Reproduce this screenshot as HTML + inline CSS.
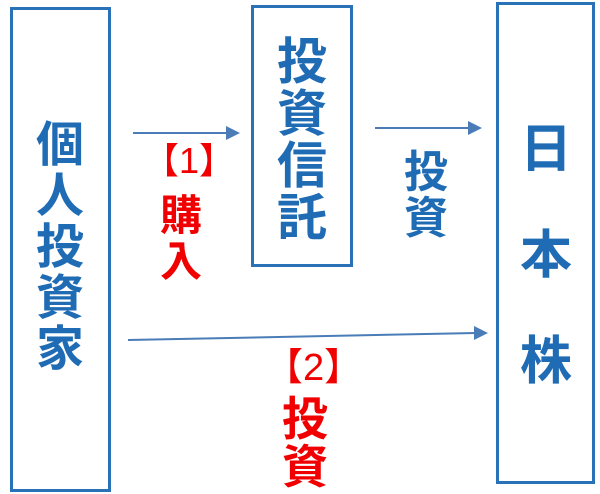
<!DOCTYPE html>
<html><head><meta charset="utf-8"><style>
body{margin:0;width:600px;height:494px;background:#fff;position:relative;overflow:hidden;font-family:"Liberation Sans","Noto Sans CJK JP",sans-serif;font-weight:bold}
.box{position:absolute;border:3px solid #2a72b8;box-sizing:border-box}
.t{position:absolute;text-align:center;line-height:1;color:#1f6cb5}
.r{color:#f00000}
</style></head><body>
<div class="box" style="left:10px;top:7px;width:101px;height:485px"></div>
<div class="box" style="left:251px;top:5px;width:102px;height:262px"></div>
<div class="box" style="left:496px;top:2px;width:99px;height:482px"></div>
<div class="t" style="left:35px;top:120px;width:50px;font-size:48px;line-height:51px">個<br>人<br>投<br>資<br>家</div>
<div class="t" style="left:277px;top:36px;width:50px;font-size:50px;line-height:52px">投<br>資<br>信<br>託</div>
<div class="t" style="left:520px;top:97px;width:50px;font-size:52px;line-height:106px">日<br>本<br>株</div>
<div class="t" style="left:403px;top:150px;width:46px;font-size:44px;line-height:46px">投<br>資</div>
<div class="t r" style="left:143px;top:143px;width:74px;font-size:36px;font-weight:normal">【1】</div>
<div class="t r" style="left:158px;top:193px;width:46px;font-size:42px;line-height:46px">購<br>入</div>
<div class="t r" style="left:265px;top:349px;width:74px;font-size:38px;font-weight:normal">【2】</div>
<div class="t r" style="left:281px;top:395px;width:48px;font-size:46px;line-height:48px">投<br>資</div>
<svg width="600" height="494" style="position:absolute;left:0;top:0">
<g stroke="#4a7cb8" stroke-width="2" fill="#4a7cb8">
<line x1="133" y1="133" x2="228" y2="133"/><polygon points="240,133 226,126 226,140" stroke="none"/>
<line x1="375" y1="128" x2="470" y2="128"/><polygon points="482,128 468,121 468,135" stroke="none"/>
<line x1="128" y1="340" x2="476" y2="333"/><polygon points="488,333 474,326 474,340" stroke="none"/>
</g></svg>
</body></html>
